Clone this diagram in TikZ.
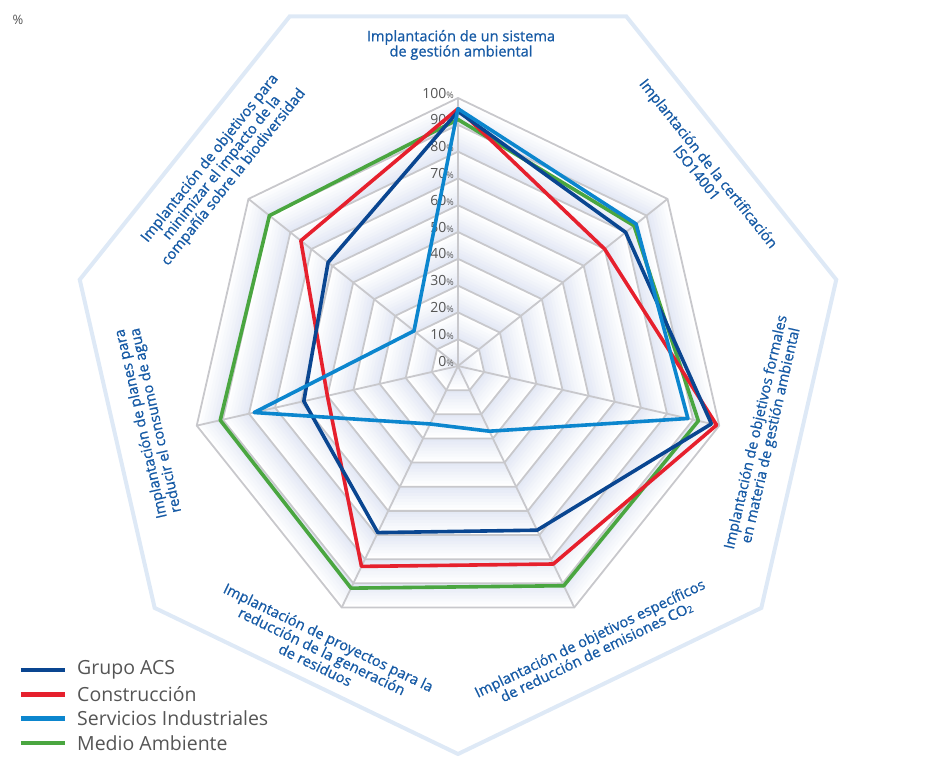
\documentclass[tikz,border=0pt]{standalone}
\usepackage{fontspec}
\setmainfont{Open Sans}
\newfontfamily\lblfont[FakeBold=0.9]{Open Sans}
\definecolor{acs}{RGB}{10,70,145}
\definecolor{cons}{RGB}{230,32,45}
\definecolor{serv}{RGB}{12,134,206}
\definecolor{medio}{RGB}{74,166,64}
\definecolor{lblue}{RGB}{22,90,165}
\definecolor{gridgray}{RGB}{200,200,204}
\definecolor{frameblue}{RGB}{222,233,246}
\definecolor{band}{RGB}{228,233,245}
\definecolor{txtgray}{RGB}{85,85,85}
\newcommand{\radar}[8]{\draw[series,#1] (90:{#2*2.68}) -- ({90-51.42857}:{#3*2.68}) -- ({90-2*51.42857}:{#4*2.68}) -- ({90-3*51.42857}:{#5*2.68}) -- ({90-4*51.42857}:{#6*2.68}) -- ({90-5*51.42857}:{#7*2.68}) -- ({90-6*51.42857}:{#8*2.68}) -- cycle;}
\begin{document}
\begin{tikzpicture}[x=1pt,y=1pt,
  gridline/.style={draw=gridgray, line width=1.8pt, line join=miter},
  series/.style={line width=3.6pt, line join=round, line cap=round},
  axlabel/.style={text=lblue, align=center, font=\lblfont\fontsize{14.6}{15.2}\selectfont, inner sep=0pt},
  pct/.style={text=txtgray, anchor=base east, font=\fontsize{14}{14}\selectfont, inner sep=0pt},
  legtext/.style={text=txtgray, anchor=west, font=\fontsize{19.5}{20}\selectfont, inner sep=0pt},
  legline/.style={line width=4.5pt},
]
\useasboundingbox (-458,-390) rectangle (473,366);
\def\R{268}
% outer frame
\draw[frameblue, line width=4pt, line join=miter] (64.2857:388) \foreach \i in {1,...,6}{ -- ({64.2857-\i*51.42857}:388)} -- cycle;
% shaded bands
\foreach \k in {10,...,1}{
  \foreach \j in {0,...,7}{
    \pgfmathsetmacro\rr{\R*(\k-\j/8)/10}
    \pgfmathtruncatemacro\mm{100*\j/7}
    \fill[band!\mm!white] (90:\rr) \foreach \i in {1,...,6}{ -- ({90-\i*51.42857}:\rr)} -- cycle;
  }
}
% grid rings
\foreach \k in {1,...,10}{
  \pgfmathsetmacro\rr{\R*\k/10}
  \draw[gridline] (90:\rr) \foreach \i in {1,...,6}{ -- ({90-\i*51.42857}:\rr)} -- cycle;
}
% spokes
\coordinate (O) at (0,0);
\foreach \i in {0,...,6}{
  \coordinate (A\i) at ({90-\i*51.42857}:\R);
  \draw[gridline] (O) -- (A\i);
}
% percent labels
\foreach \k in {0,...,10}{
  \pgfmathtruncatemacro\p{10*\k}
  \node[pct] (p\k) at (-4,{\R*\k/10}) {\p{\fontsize{9}{9}\selectfont\%}};
}
% series
\radar{medio}{92}{84}{92}{91}{92}{91}{90}
\radar{cons}{96}{70}{99}{82}{83}{50}{75}
\radar{acs}{95}{80}{97}{68}{69}{59}{62}
\radar{serv}{96}{85}{88}{27}{24}{78}{21}
% axis labels
\node[axlabel] (L0) at (3,321) {Implantación de un sistema\\de gestión ambiental};
\node[axlabel, rotate=-51.43] (L1) at (245,198) {Implantación de la certificación\\ISO14001};
\node[axlabel, rotate=77.14] (L2) at (306,-68) {Implantación de objetivos formales\\en materia de gestión ambiental};
\node[axlabel, rotate=25.71] (L3) at (135,-279) {Implantación de objetivos específicos\\de reducción de emisiones CO\raisebox{-0.5pt}{\fontsize{9.5}{9.5}\selectfont 2}};
\node[axlabel, rotate=-25.71] (L4) at (-136,-285) {Implantación de proyectos para la\\reducción de la generación\\de residuos};
\node[axlabel, rotate=102.86] (L5) at (-309,-56) {Implantación de planes para\\reducir el consumo de agua};
\node[axlabel, rotate=51.43] (L6) at (-236,198) {Implantación de objetivos para\\minimizar el impacto de la\\compañía sobre la biodiversidad};
% unit
\node[text=txtgray, font=\fontsize{13}{13}\selectfont, inner sep=0pt] (unit) at (-440,346) {\%};
% legend
\foreach \c/\t [count=\n from 0] in {acs/Grupo ACS, cons/Construcción, serv/Servicios Industriales, medio/Medio Ambiente}{
  \coordinate (ga\n) at (-437,{-304-24.3*\n});
  \coordinate (gb\n) at (-393,{-304-24.3*\n});
  \draw[legline, \c] (ga\n) -- (gb\n);
  \node[legtext] (lt\n) at (-381,{-304-24.3*\n}) {\t};
}
\end{tikzpicture}
\end{document}
